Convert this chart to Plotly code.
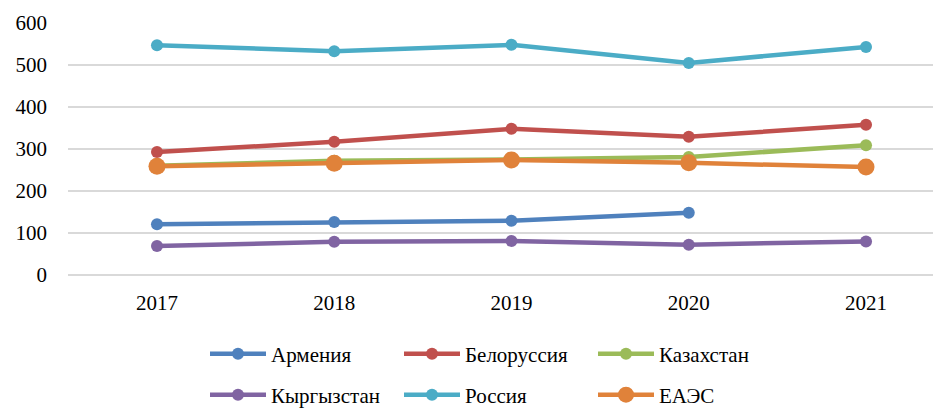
import plotly.graph_objects as go

years = ["2017", "2018", "2019", "2020", "2021"]

armenia = [121, 126, 129, 148, None]
belarus = [293, 317, 348, 329, 358]
kazakhstan = [260, 272, 275, 281, 309]
kyrgyzstan = [69, 79, 81, 72, 80]
russia = [547, 533, 548, 505, 543]
eaeu = [259, 266, 274, 267, 257]

SERIES = [
    ("Армения", armenia, "#4f81bd", "legend"),
    ("Белоруссия", belarus, "#c0504d", "legend"),
    ("Казахстан", kazakhstan, "#9bbb59", "legend"),
    ("Кыргызстан", kyrgyzstan, "#8064a2", "legend2"),
    ("Россия", russia, "#4bacc6", "legend2"),
    ("ЕАЭС", eaeu, "#e0823a", "legend2"),
]

FONT = "Liberation Serif"
TEXT_FONT = dict(family=FONT, size=21, color="black")

# page body has an 8px margin, so the figure is sized to fit the window
W, H = 933, 400

fig = go.Figure()
for name, values, color, leg in SERIES:
    big = name == "ЕАЭС"
    fig.add_trace(go.Scatter(
        x=years,
        y=values,
        name=name,
        mode="lines+markers",
        line=dict(color=color, width=4.5),
        marker=dict(color=color, size=17 if big else 12),
        legend=leg,
    ))

legend_common = dict(
    orientation="h",
    xref="container", yref="container",
    x=197 / W, xanchor="left",
    yanchor="middle",
    font=dict(family=FONT, size=21, color="black"),
    entrywidth=123, entrywidthmode="pixels",
    itemwidth=56,
    bgcolor="rgba(0,0,0,0)",
    tracegroupgap=0,
)

fig.update_layout(
    template="none",
    width=W,
    height=H,
    paper_bgcolor="white",
    plot_bgcolor="white",
    font=TEXT_FONT,
    margin=dict(l=60, r=0, t=15, b=133, autoexpand=False),
    xaxis=dict(
        type="category",
        range=[-0.502, 4.423],
        showgrid=False,
        showline=False,
        zeroline=False,
        ticks="",
        ticklabelstandoff=13,
    ),
    yaxis=dict(
        range=[0, 600],
        dtick=100,
        showgrid=True,
        gridcolor="#d9d9d9",
        gridwidth=1.5,
        zeroline=True,
        zerolinecolor="#d9d9d9",
        zerolinewidth=1.5,
        showline=False,
        ticks="",
        ticklabelstandoff=20,
    ),
    legend=dict(**legend_common, y=1 - 346 / H),
    legend2=dict(**legend_common, y=1 - 387 / H),
    showlegend=True,
)

fig.write_html("out.html")
